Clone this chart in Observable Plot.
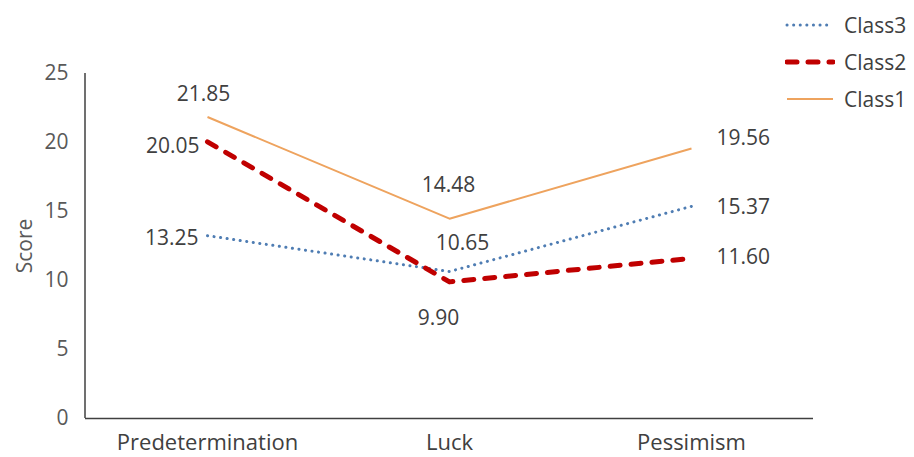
<!DOCTYPE html>
<html>
<head>
<meta charset="utf-8">
<script src="https://cdn.jsdelivr.net/npm/d3@7"></script>
<script src="https://cdn.jsdelivr.net/npm/@observablehq/plot@0.6"></script>
<style>
  body { margin: 0; background: #fff; }
  #wrap { position: relative; width: 914px; height: 457px; font-family: "Open Sans", "Noto Sans", sans-serif; }
  #legend { position: absolute; left: 785px; top: 6px; }
  .row { display: flex; align-items: center; height: 37px; }
  .row span { margin-left: 9px; font-size: 21px; color: #404040; }
</style>
</head>
<body>
<div id="wrap"><div id="legend"></div></div>
<script>
// Dimension scores per latent class
const categories = ["Predetermination", "Luck", "Pessimism"];
const class1 = [21.85, 14.48, 19.56];
const class2 = [20.05, 9.90, 11.60];
const class3 = [13.25, 10.65, 15.37];
const yTicks = [0, 5, 10, 15, 20, 25];

// Line appearance for each class
const styles = {
  Class1: {stroke: "#eea35e", strokeWidth: 2, strokeDasharray: null, strokeLinecap: "butt"},
  Class2: {stroke: "#c00000", strokeWidth: 5, strokeDasharray: "10 11", strokeLinecap: "round"},
  Class3: {stroke: "#4f7db3", strokeWidth: 3, strokeDasharray: "0.1 6.5", strokeLinecap: "round"}
};

// Where each value label sits relative to its point
const labelPlacement = {
  Class1: [{anchor: "middle", dx: -4, dy: -23}, {anchor: "middle", dx: -1, dy: -33}, {anchor: "start", dx: 25, dy: -10}],
  Class2: [{anchor: "end", dx: -8, dy: 4}, {anchor: "middle", dx: -11, dy: 36}, {anchor: "start", dx: 25, dy: -1}],
  Class3: [{anchor: "end", dx: -9, dy: 3}, {anchor: "middle", dx: 13, dy: -28}, {anchor: "start", dx: 25, dy: 1}]
};

const seriesList = [
  {name: "Class3", values: class3},
  {name: "Class1", values: class1},
  {name: "Class2", values: class2}
];

const rows = seriesList.flatMap(s => categories.map((c, i) => ({series: s.name, category: c, value: s.values[i], i})));

const marks = [];
marks.push(Plot.ruleY([0], {stroke: "#404040", strokeWidth: 1.5}));
for (const s of seriesList) {
  const st = styles[s.name];
  const d = rows.filter(r => r.series === s.name);
  marks.push(Plot.line(d, {
    x: "category", y: "value",
    stroke: st.stroke, strokeWidth: st.strokeWidth,
    strokeDasharray: st.strokeDasharray, strokeLinecap: st.strokeLinecap, strokeLinejoin: "round"
  }));
}
for (const s of seriesList) {
  s.values.forEach((v, i) => {
    const p = labelPlacement[s.name][i];
    marks.push(Plot.text([rows.find(r => r.series === s.name && r.i === i)], {
      x: "category", y: "value", text: r => r.value.toFixed(2),
      textAnchor: p.anchor, dx: p.dx, dy: p.dy,
      fill: "#404040", fontSize: 21
    }));
  });
}
marks.push(Plot.axisY({ticks: yTicks, tickSize: 0, tickPadding: 17, fontSize: 21, color: "#595959",
  label: "Score", labelAnchor: "center", labelOffset: 68, labelArrow: false}));
marks.push(Plot.axisX({tickSize: 0, tickPadding: 16, fontSize: 22, color: "#404040", label: null}));

const chart = Plot.plot({
  width: 914,
  height: 457,
  marginLeft: 85,
  marginRight: 101,
  marginTop: 73,
  marginBottom: 39,
  style: {fontFamily: "Open Sans, Noto Sans, sans-serif", background: "#fff", color: "#404040"},
  x: {type: "point", domain: categories, padding: 0.5},
  y: {domain: [0, 25]},
  marks
});

// Vertical value axis line along the left edge of the plotting area
const ys = chart.scale("y");
d3.select(chart).append("line")
  .attr("x1", 85).attr("x2", 85)
  .attr("y1", ys.apply(0)).attr("y2", ys.apply(25))
  .attr("stroke", "#404040").attr("stroke-width", 1.5);

document.getElementById("wrap").prepend(chart);
chart.style.position = "absolute";
chart.style.left = "0";
chart.style.top = "0";

// Legend, listed as in the original chart order
const legend = d3.select("#legend");
for (const name of ["Class3", "Class2", "Class1"]) {
  const st = styles[name];
  const row = legend.append("div").attr("class", "row");
  const sw = row.append("svg").attr("width", 50).attr("height", 10);
  sw.append("line").attr("x1", 2).attr("x2", 48).attr("y1", 5).attr("y2", 5)
    .attr("stroke", st.stroke).attr("stroke-width", st.strokeWidth)
    .attr("stroke-dasharray", st.strokeDasharray).attr("stroke-linecap", st.strokeLinecap);
  row.append("span").text(name);
}
</script>
</body>
</html>
